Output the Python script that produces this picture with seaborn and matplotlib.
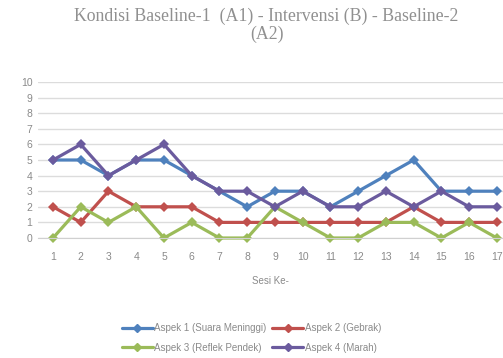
import matplotlib
matplotlib.use("Agg")
import matplotlib.pyplot as plt
import seaborn as sns
import pandas as pd

sesi = list(range(1, 18))
aspek1 = [5, 5, 4, 5, 5, 4, 3, 2, 3, 3, 2, 3, 4, 5, 3, 3, 3]
aspek2 = [2, 1, 3, 2, 2, 2, 1, 1, 1, 1, 1, 1, 1, 2, 1, 1, 1]
aspek3 = [0, 2, 1, 2, 0, 1, 0, 0, 2, 1, 0, 0, 1, 1, 0, 1, 0]
aspek4 = [5, 6, 4, 5, 6, 4, 3, 3, 2, 3, 2, 2, 3, 2, 3, 2, 2]
labels = ["Aspek 1 (Suara Meninggi)", "Aspek 2 (Gebrak)",
          "Aspek 3 (Reflek Pendek)", "Aspek 4 (Marah)"]
colors = ["#4F81BD", "#C0504D", "#9BBB59", "#6B5B9E"]
yticks = list(range(0, 11))

frames = []
for lab, vals in zip(labels, [aspek1, aspek2, aspek3, aspek4]):
    frames.append(pd.DataFrame({"Sesi": sesi, "Skor": vals, "Aspek": lab}))
df = pd.concat(frames, ignore_index=True)

sns.set_style("white")
plt.rcParams["font.family"] = ["Liberation Sans", "DejaVu Sans"]

fig = plt.figure(figsize=(5.03, 3.58), dpi=100)
ax = fig.add_axes([38 / 503, 1 - 238 / 358, 1 - 38 / 503, (238 - 82) / 358])

sns.lineplot(data=df, x="Sesi", y="Skor", hue="Aspek", hue_order=labels,
             palette=colors, style="Aspek", markers=["D"] * 4, dashes=False,
             linewidth=2.3, markersize=5.5, markeredgewidth=0, ax=ax,
             legend=False, clip_on=False)

ax.set_xlim(0.46, 17.22)
ax.set_ylim(0, 10)
ax.set_xticks(sesi)
ax.set_yticks(yticks)
ax.tick_params(axis="both", length=0, labelsize=7.5, colors="#8a8a8a", pad=4)
ax.tick_params(axis="x", pad=10)
ax.grid(axis="y", color="#dcdcdc", linewidth=1)
ax.set_axisbelow(True)
for s in ["top", "right", "left"]:
    ax.spines[s].set_visible(False)
ax.spines["bottom"].set_color("#d0d0d0")
ax.set_xlabel("Sesi Ke-", fontsize=7, color="#8a8a8a", labelpad=10)
ax.set_ylabel("")

fig.text(0.53, 0.953, "Kondisi Baseline-1  (A1) - Intervensi (B) - Baseline-2",
         ha="center", va="center", fontsize=12.8, color="#909090",
         family=["Liberation Serif"])
fig.text(0.53, 0.905, "(A2)", ha="center", va="center", fontsize=12.8,
         color="#909090", family=["Liberation Serif"])

# legend filled column-wise: rows read Aspek 1 | Aspek 2, Aspek 3 | Aspek 4
order = [0, 2, 1, 3]
handles = [plt.Line2D([], [], color=colors[i], marker="D", markersize=4,
                      linewidth=2.3) for i in order]
leg = fig.legend(handles, [labels[i] for i in order], loc="center",
                 bbox_to_anchor=(0.50, 0.056), ncol=2, frameon=False,
                 fontsize=7, handlelength=3.2, handletextpad=0.15,
                 columnspacing=0.6, labelspacing=1.0)
for t in leg.get_texts():
    t.set_color("#8a8a8a")

fig.savefig("out.png", dpi=100)
